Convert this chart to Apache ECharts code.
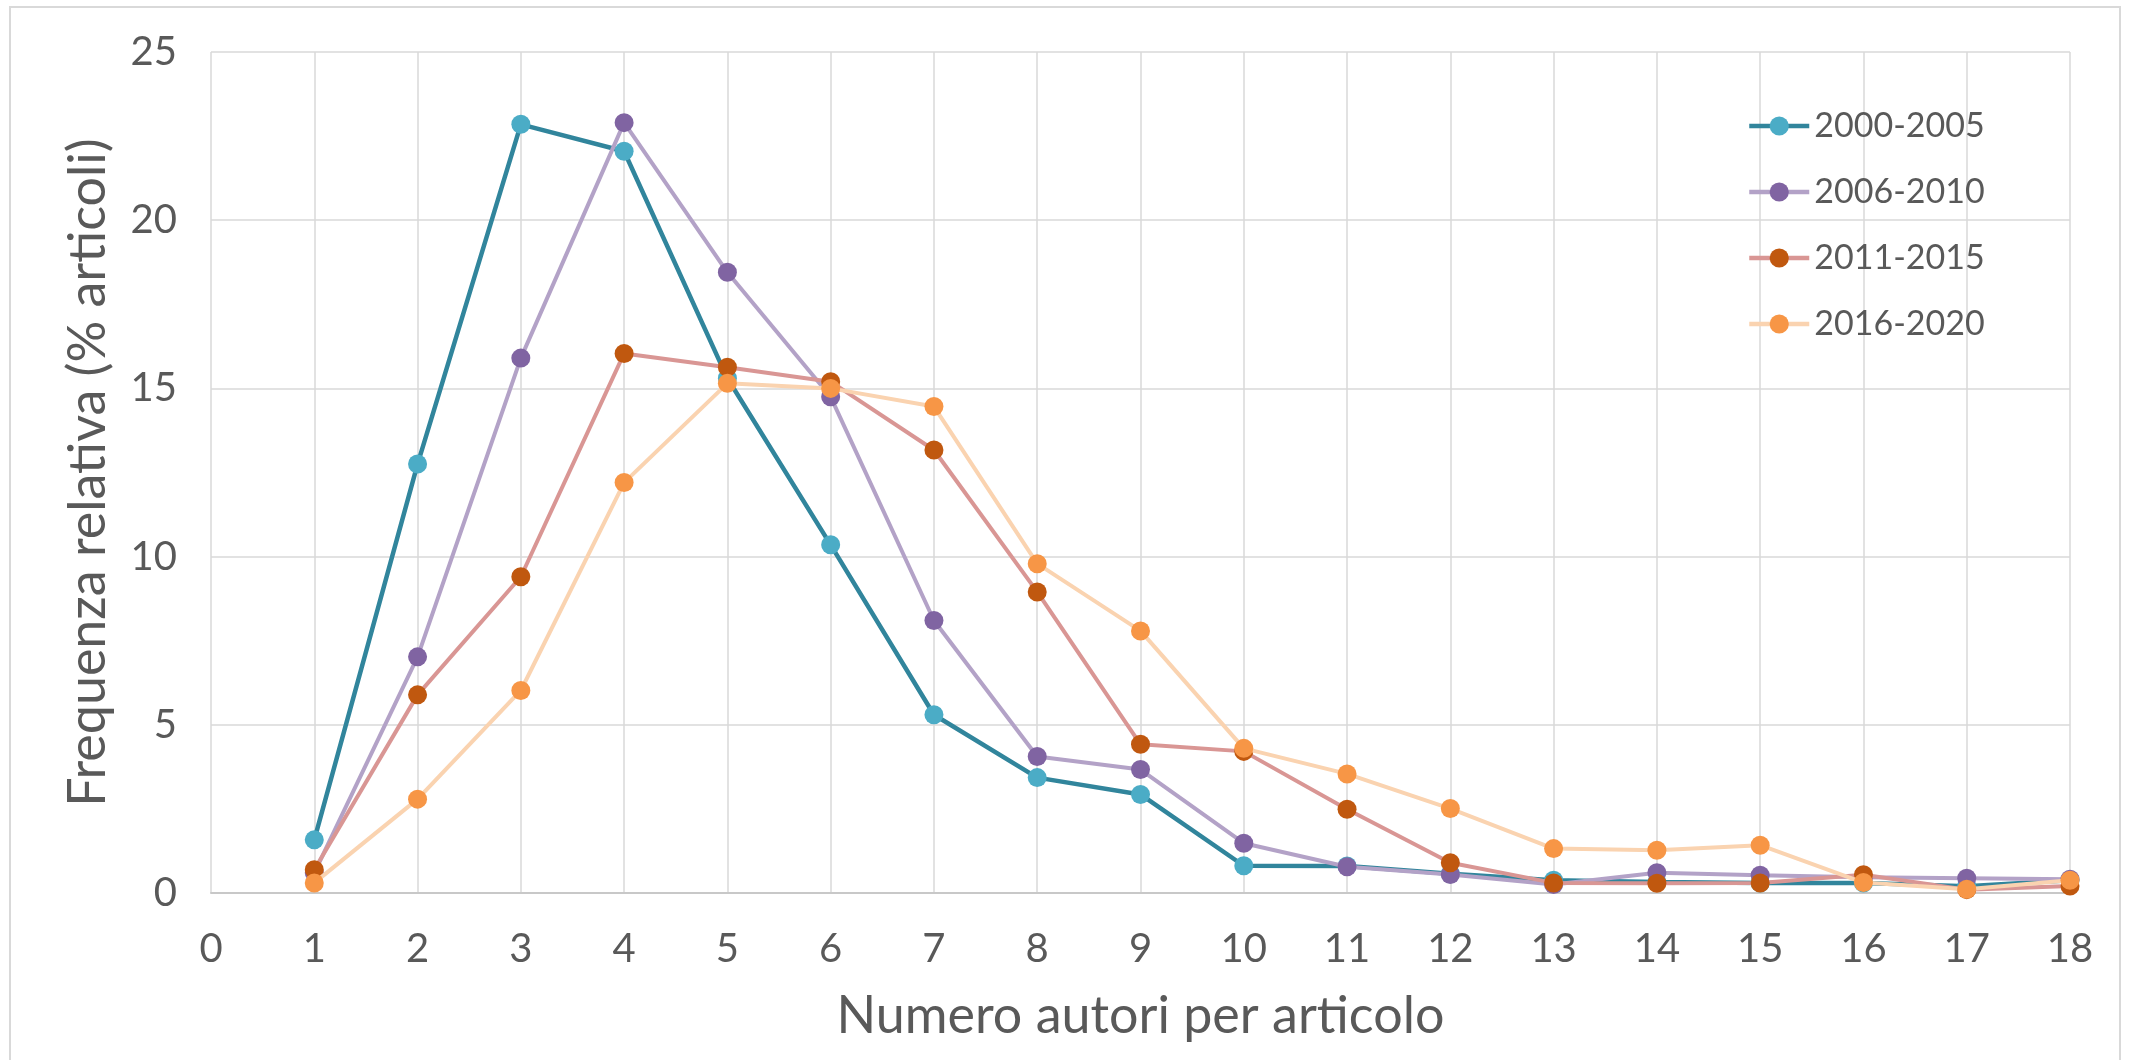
<!DOCTYPE html>
<html>
<head>
<meta charset="utf-8">
<script src="https://cdn.jsdelivr.net/npm/echarts@6/dist/echarts.min.js"></script>
<style>
html,body{margin:0;padding:0;background:#fff;}
#chart{width:2131px;height:1060px;}
</style>
</head>
<body>
<div id="chart"></div>
<script>
// Number of authors per article (x)
const authors = [1,2,3,4,5,6,7,8,9,10,11,12,13,14,15,16,17,18];
const seriesNames = ['2000-2005','2006-2010','2011-2015','2016-2020'];
const s2000_2005 = [1.58, 12.75, 22.85, 22.05, 15.3, 10.35, 5.3, 3.43, 2.93, 0.81, 0.8, 0.57, 0.38, 0.33, 0.3, 0.3, 0.2, 0.38];
const s2006_2010 = [0.6, 7.02, 15.9, 22.9, 18.45, 14.75, 8.1, 4.06, 3.67, 1.48, 0.78, 0.55, 0.25, 0.6, 0.53, 0.47, 0.44, 0.41];
const s2011_2015 = [0.69, 5.89, 9.4, 16.04, 15.63, 15.2, 13.17, 8.95, 4.42, 4.21, 2.49, 0.9, 0.3, 0.29, 0.3, 0.54, 0.1, 0.21];
const s2016_2020 = [0.3, 2.79, 6.02, 12.2, 15.15, 15.0, 14.46, 9.79, 7.79, 4.3, 3.54, 2.51, 1.32, 1.27, 1.42, 0.31, 0.11, 0.38];
const xTitle = 'Numero autori per articolo';
const yTitle = 'Frequenza relativa (% articoli)';

const values = [s2000_2005, s2006_2010, s2011_2015, s2016_2020];
const lineColors = ['#31859C', '#B3A2C7', '#D99694', '#FAD3B0'];
const markColors = ['#4BACC6', '#8064A2', '#C0580F', '#F79646'];
const lineWidths = [4.5, 4, 4, 4];

const FONT = 'Lato, "Open Sans", sans-serif';
const chart = echarts.init(document.getElementById('chart'));

const series = values.map((vals, i) => ({
  name: seriesNames[i],
  type: 'line',
  data: authors.map((a, j) => [a, vals[j]]),
  symbol: 'circle',
  symbolSize: 19,
  lineStyle: { color: lineColors[i], width: lineWidths[i] },
  itemStyle: { color: markColors[i] },
  emphasis: { disabled: true },
  z: 2 + i
}));

chart.setOption({
  animation: false,
  backgroundColor: '#fff',
  textStyle: { fontFamily: FONT },
  graphic: [{
    type: 'rect',
    shape: { x: 10, y: 7, width: 2110, height: 1080 },
    style: { fill: 'none', stroke: '#D9D9D9', lineWidth: 2 },
    silent: true
  }],
  grid: { left: 211, right: 61, top: 52, bottom: 167 },
  legend: {
    orient: 'vertical',
    left: 1742,
    top: 104,
    itemWidth: 60,
    itemHeight: 24,
    itemGap: 32,
    lineStyle: { width: 4.5 },
    textStyle: { fontFamily: FONT, fontSize: 34, color: '#595959', lineHeight: 34 },
    data: seriesNames
  },
  xAxis: {
    type: 'value',
    min: 0, max: 18, interval: 1,
    name: xTitle,
    nameLocation: 'middle',
    nameGap: 97,
    nameTextStyle: { fontFamily: FONT, fontSize: 52, color: '#595959' },
    axisLine: { show: true, lineStyle: { color: '#C8C8C8', width: 2 } },
    axisTick: { show: false },
    axisLabel: { fontFamily: FONT, fontSize: 40, color: '#595959', margin: 36 },
    splitLine: { show: true, lineStyle: { color: '#D9D9D9', width: 1.5 } }
  },
  yAxis: {
    type: 'value',
    min: 0, max: 25, interval: 5,
    name: yTitle,
    nameLocation: 'middle',
    nameGap: 97,
    nameTextStyle: { fontFamily: FONT, fontSize: 52, color: '#595959' },
    axisLine: { show: false },
    axisTick: { show: false },
    axisLabel: { fontFamily: FONT, fontSize: 40, color: '#595959', margin: 34 },
    splitLine: { show: true, lineStyle: { color: '#D9D9D9', width: 1.5 } }
  },
  series: series
});
</script>
</body>
</html>
